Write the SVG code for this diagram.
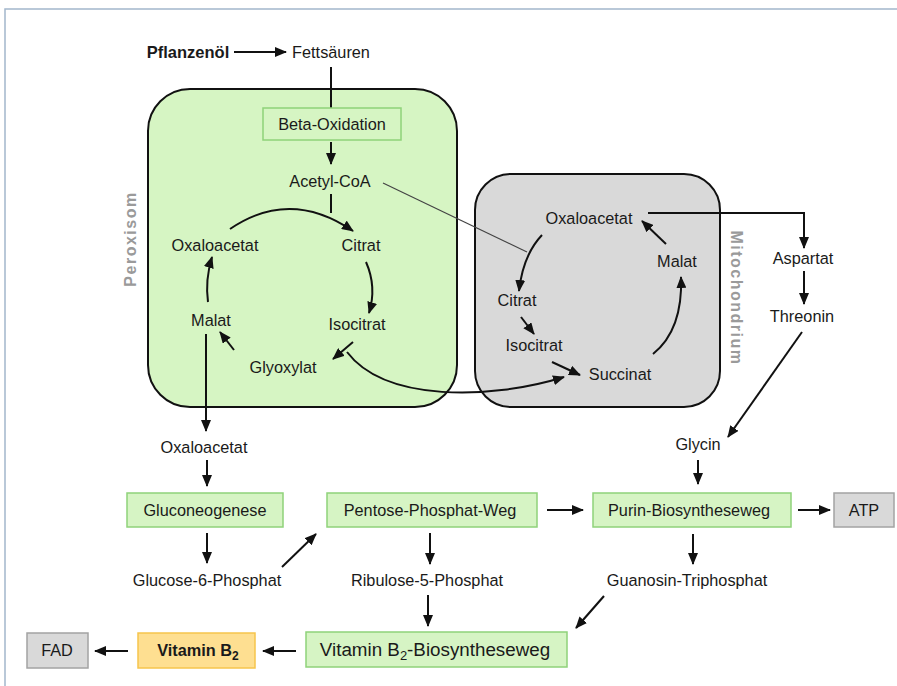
<svg xmlns="http://www.w3.org/2000/svg" width="897" height="686" viewBox="0 0 897 686">
<defs>
<marker id="ah" viewBox="0 0 12 10" refX="11" refY="5" markerWidth="12" markerHeight="10" markerUnits="userSpaceOnUse" orient="auto">
<path d="M0,0 L12,5 L0,10 z" fill="#111"/>
</marker>
<style>
text{font-family:"Liberation Sans",Arial,sans-serif;font-size:16.3px;fill:#1a1a1a;text-anchor:middle}
.b{font-weight:bold}
.org{font-weight:bold;fill:#9a9a9a;font-size:16px;letter-spacing:1.5px}
.gb{fill:#d6f4c4;stroke:#8fd27a;stroke-width:1.5}
.gy{fill:#d9d9d9;stroke:#a3a3a3;stroke-width:1.5}
.yb{fill:#fedf91;stroke:#f6c54c;stroke-width:1.5}
.c{fill:none;stroke:#111;stroke-width:2;marker-end:url(#ah)}
.l{fill:none;stroke:#111;stroke-width:2}
.t{fill:none;stroke:#444;stroke-width:1.2}
</style>
</defs>
<rect width="897" height="686" fill="#fff"/>
<path d="M5,686 L5,9 L897,9" fill="none" stroke="#a3b7cc" stroke-width="1.5"/>

<g id="peroxisom">
<rect x="148" y="89" width="309" height="318" rx="42" fill="#d6f5c3" stroke="#111" stroke-width="2"/>
<text class="org" transform="translate(136,239) rotate(-90)">Peroxisom</text>
</g>
<g id="mitochondrium">
<rect x="475" y="174" width="245" height="233" rx="36" fill="#d9d9d9" stroke="#111" stroke-width="2"/>
<text class="org" transform="translate(731,298) rotate(90)">Mitochondrium</text>
</g>

<g id="connectors">
<path class="c" d="M234,52 L286,52"/>
<path class="l" d="M331,67 L331,108"/>
<path class="c" d="M331,142 L331,164"/>
<path class="l" d="M331,194 L331,213"/>
<path class="c" d="M230,229 Q290,188 353,231"/>
<path class="t" d="M383,183 L527,252"/>
<path class="c" d="M366,262 Q377,287 369,313"/>
<path class="c" d="M353,342 L333,359"/>
<path class="c" d="M234,350 L220,332"/>
<path class="c" d="M208,302 Q205,280 212,257"/>
<path class="c" d="M206,334 L206,431"/>
<path class="c" d="M347,352 C385,402 490,400 564,377"/>
<path class="c" d="M542,235 Q523,255 519,291"/>
<path class="c" d="M521,317 L534,334"/>
<path class="c" d="M552,362 L580,375"/>
<path class="c" d="M653,354 Q683,330 681,277"/>
<path class="c" d="M666,244 L642,221"/>
<path class="c" d="M648,213 L804,213 L804,248"/>
<path class="c" d="M804,271 L804,304"/>
<path class="c" d="M802,332 L728,437"/>
<path class="c" d="M698,460 L698,484"/>
<path class="c" d="M798,510 L830,510"/>
<path class="c" d="M693,534 L693,564"/>
<path class="c" d="M604,596 L576,628"/>
<path class="c" d="M547,510 L583,510"/>
<path class="c" d="M207,460 L207,486"/>
<path class="c" d="M207,533 L207,563"/>
<path class="c" d="M282,567 L316,534"/>
<path class="c" d="M430,533 L430,564"/>
<path class="c" d="M428,595 L428,626"/>
<path class="c" d="M296,651 L263,651"/>
<path class="c" d="M128,651 L95,651"/>
</g>

<g id="pflanzenoel"><text class="b" x="188" y="58" style="font-size:16.5px">Pflanzenöl</text></g>
<g id="fettsaeuren"><text x="331" y="58">Fettsäuren</text></g>
<g id="beta-oxidation"><rect class="gb" x="263" y="108" width="138" height="32" style="fill:#d6f5c3"/><text x="332" y="130">Beta-Oxidation</text></g>
<g id="acetyl-coa"><text x="330" y="187">Acetyl-CoA</text></g>
<g id="p-oxaloacetat"><text x="215" y="251">Oxaloacetat</text></g>
<g id="p-citrat"><text x="361" y="251">Citrat</text></g>
<g id="p-isocitrat"><text x="357" y="330">Isocitrat</text></g>
<g id="p-malat"><text x="211" y="326">Malat</text></g>
<g id="glyoxylat"><text x="283" y="373">Glyoxylat</text></g>

<g id="m-oxaloacetat"><text x="589" y="224">Oxaloacetat</text></g>
<g id="m-malat"><text x="677" y="267">Malat</text></g>
<g id="m-citrat"><text x="517" y="306">Citrat</text></g>
<g id="m-isocitrat"><text x="534" y="351">Isocitrat</text></g>
<g id="succinat"><text x="620" y="380">Succinat</text></g>
<g id="aspartat"><text x="803" y="264">Aspartat</text></g>
<g id="threonin"><text x="802" y="322">Threonin</text></g>
<g id="glycin"><text x="698" y="450">Glycin</text></g>

<g id="oxaloacetat"><text x="204" y="453">Oxaloacetat</text></g>
<g id="gluconeogenese"><rect class="gb" x="127" y="493" width="156" height="34"/><text x="205" y="516">Gluconeogenese</text></g>
<g id="glucose-6-phosphat"><text x="207" y="586">Glucose-6-Phosphat</text></g>
<g id="pentose-phosphat-weg"><rect class="gb" x="327" y="493" width="210" height="34"/><text x="430" y="516">Pentose-Phosphat-Weg</text></g>
<g id="ribulose-5-phosphat"><text x="427" y="586">Ribulose-5-Phosphat</text></g>
<g id="purin-biosyntheseweg"><rect class="gb" x="593" y="493" width="198" height="34"/><text x="689" y="516">Purin-Biosyntheseweg</text></g>
<g id="atp"><rect class="gy" x="834" y="493" width="60" height="34"/><text x="864" y="516">ATP</text></g>
<g id="guanosin-triphosphat"><text x="687" y="586">Guanosin-Triphosphat</text></g>
<g id="vitamin-b2-biosyntheseweg"><rect class="gb" x="306" y="632" width="261" height="35"/><text x="435" y="656" style="font-size:18.8px">Vitamin B<tspan dy="4" style="font-size:13px">2</tspan><tspan dy="-4">-Biosyntheseweg</tspan></text></g>
<g id="vitamin-b2"><rect class="yb" x="138" y="633" width="117" height="35"/><text class="b" x="198" y="656">Vitamin B<tspan dy="4" style="font-size:12px">2</tspan></text></g>
<g id="fad"><rect class="gy" x="27" y="633" width="61" height="35"/><text x="57" y="656">FAD</text></g>
</svg>
